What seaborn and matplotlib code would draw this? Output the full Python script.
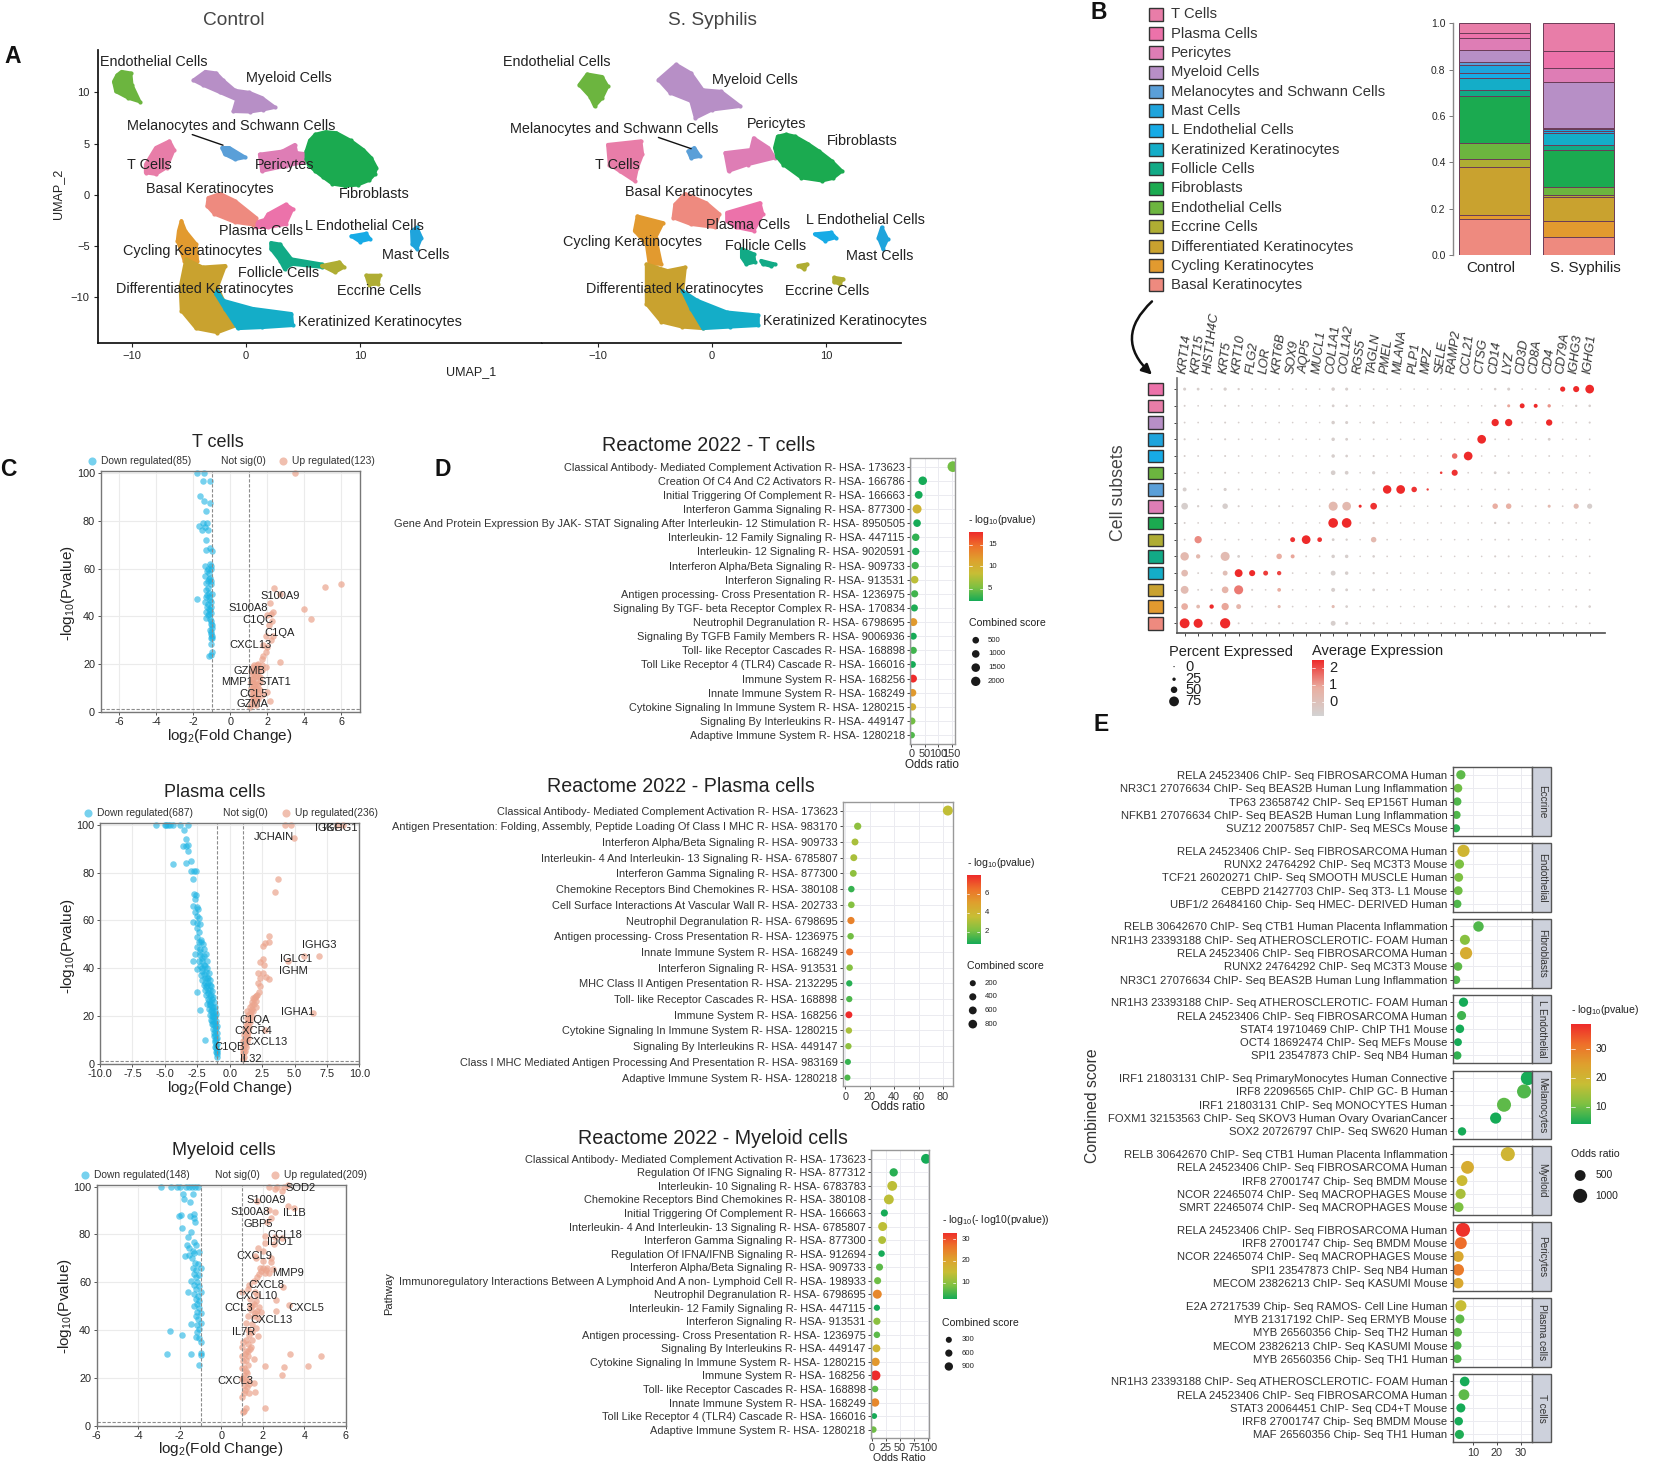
import numpy as np
import pandas as pd
import matplotlib
matplotlib.use('Agg')
import matplotlib.pyplot as plt
import seaborn as sns
from matplotlib.colors import LinearSegmentedColormap
from matplotlib.patches import Rectangle, FancyArrowPatch

sns.set_theme(style='white')
plt.rcParams['font.family'] = ['Liberation Sans', 'DejaVu Sans']
plt.rcParams['mathtext.default'] = 'regular'

# all layout below is in the coordinates of the 1568x1407 preview
W, H = 1568, 1407
TXT = '#222222'

# ---------- panel A, cluster outlines read from the UMAP (x, y)
c_endo = [(-11.6, 11.07), (-11.3, 11.7), (-10.9, 12.05), (-10.1, 11.9), (-10, 10.75), (-9.3, 9.1), (-10.3, 9.45), (-11.4, 10.1)]
c_myeloid = [(-4.6, 11.2), (-3.55, 12.05), (-2.6, 11.9), (-2, 11.2), (-0.95, 10.2), (0.3, 10), (1.4, 9.5), (2.55, 8.55), (1.5, 8.3), (0.35, 8.1), (-1.1, 8.15), (-0.8, 9.3), (-2.25, 10), (-3.8, 10.75)]
c_melano = [(-2.1, 4.6), (-1.45, 4.6), (-0.05, 3.65), (-0.95, 3.45), (-1.85, 3.95)]
c_t = [(-8.8, 2.95), (-7.9, 4.6), (-6.7, 5.25), (-6.3, 4.4), (-6.95, 2.65), (-7.9, 2.0), (-8.8, 2.15)]
c_peri = [(1.2, 3.95), (3.2, 4.25), (4.3, 4.9), (4.45, 4.1), (5.6, 3.95), (5.6, 3.3), (3.5, 2.8), (1.4, 2.3)]
c_fibro = [(5.3, 4.25), (5.6, 5.3), (6.1, 5.9), (7.0, 6.15), (7.95, 6.05), (9.2, 5.3), (10.3, 4.4), (11, 3.6), (11.45, 2.65), (11.3, 2), (10.8, 1.4), (9.8, 0.95), (8.7, 0.85), (7.6, 1.05), (6.8, 1.7), (6.1, 2.3), (5.5, 2.9), (5.3, 3.5)]
c_basal = [(-3.3, -0.3), (-2.25, 0.1), (-0.95, -0.6), (0.9, -2.25), (0.65, -2.95), (-0.95, -2.7), (-2.75, -1.9), (-3.4, -1.1)]
c_plasma = [(0.9, -2.7), (1.65, -2.45), (1.95, -1.9), (3.5, -0.95), (4.1, -1.4), (3.5, -2.9), (1.95, -3.2), (0.9, -3.2)]
c_cycling = [(-5.65, -2.55), (-5.3, -3.55), (-4.35, -4.85), (-4.25, -6.45), (-5.4, -6.45), (-6.0, -4.5), (-5.9, -3.55)]
c_diff = [(-5.25, -6.3), (-3.8, -7.1), (-1.8, -6.95), (-2.5, -9.05), (-1.7, -11), (-0.7, -12.75), (-2.5, -13.5), (-4.35, -13.1), (-5.65, -11.35), (-5.75, -9.05)]
c_kerat = [(-2.5, -9.4), (-2, -10.35), (0.6, -11.15), (4, -11.65), (4.1, -12.8), (1.4, -13), (-0.7, -13.1), (-1.85, -11.15), (-2.65, -9.7)]
c_follicle = [(2.2, -4.7), (3, -4.85), (4, -6.3), (6.65, -6.8), (6.65, -7.1), (4, -6.8), (3.4, -7.3), (3, -6.45), (2.2, -5.3)]
c_eccrine_a = [(6.65, -6.95), (8.2, -6.6), (8.6, -7.1), (7.8, -7.6)]
c_eccrine_b = [(10.55, -7.9), (11.75, -7.9), (11.6, -8.75), (10.8, -8.8)]
c_lendo = [(9.25, -4.05), (10.55, -3.8), (10.9, -4.35), (10, -4.6)]
c_mast = [(14.55, -3.55), (15, -3.2), (15.4, -4.2), (15, -5.3), (14.6, -4.85)]

s_endo = [(-11.65, 10.75), (-10.95, 11.8), (-9.65, 11.55), (-9.15, 10.6), (-9.65, 9.45), (-10.3, 8.65), (-10.7, 9.6)]
s_myeloid = [(-4.7, 11.25), (-3.15, 12.75), (-1.85, 11.9), (-0.8, 10.25), (0.8, 10.1), (2.5, 8.65), (0, 8.3), (-1.45, 7.5), (-1.85, 9.15), (-3.65, 9.95)]
s_melano = [(-2.1, 4.25), (-1.55, 4.6), (-1.05, 3.75), (-1.85, 3.6)]
s_t = [(-9.15, 4.9), (-6.25, 5.25), (-6.1, 3.95), (-6.55, 2.65), (-6.8, 1.35), (-8.1, 2.3), (-9, 2.95)]
s_peri = [(1.15, 4.1), (3.4, 4.4), (3.65, 5.55), (4.95, 4.6), (5.5, 3.6), (3.15, 2.95), (1.45, 2.3)]
s_fibro = [(5.75, 5.7), (6.5, 5.9), (7.3, 5.7), (8.4, 5.0), (9.4, 4.25), (10.5, 3.3), (11.4, 2.3), (10.6, 1.6), (9.65, 1.35), (7.85, 1.65), (6.25, 2.95), (5.7, 3.7), (5.5, 4.6)]
s_basal = [(-3.25, -0.95), (-2.35, 0.1), (-0.5, -0.8), (0.65, -1.9), (0.25, -3.2), (-1.85, -2.9), (-3.4, -2.25)]
s_plasma = [(1.3, -1.75), (4.2, -0.8), (4.45, -1.9), (3.65, -3.55), (2.1, -3.2), (1.3, -2.55)]
s_cycling = [(-6.55, -2.1), (-4.3, -2.75), (-4.95, -4.2), (-4.45, -6.8), (-5.5, -6.8), (-5.75, -4.85), (-6.8, -3.55)]
s_diff = [(-5.75, -6.8), (-3.9, -7.45), (-2.35, -7.1), (-2.6, -9.7), (-0.8, -13.1), (-2.6, -12.95), (-4.45, -12.45), (-5.75, -10.7)]
s_kerat = [(-2.6, -9.4), (-1.3, -10.35), (1.3, -11.5), (4.05, -11.8), (4.05, -12.8), (1.55, -12.95), (-0.8, -13.1), (-1.85, -11.15)]
s_follicle_a = [(2.6, -5.3), (3.65, -5.8), (3.75, -6.6), (3, -6.8), (2.6, -6.15)]
s_follicle_b = [(4.3, -6.45), (5.5, -6.8), (5.2, -7), (4.45, -6.8)]
s_eccrine_a = [(7.55, -6.95), (8.35, -6.8), (8.1, -7.3)]
s_eccrine_b = [(10.7, -8.1), (11.5, -8.25), (11.2, -8.75), (10.7, -8.55)]
s_lendo = [(9, -3.85), (10.45, -3.7), (10.85, -4.2), (9.9, -4.5)]
s_mast = [(14.6, -4.2), (14.9, -3.2), (15.4, -4.35), (15, -5.3)]

subset_names = ['T Cells', 'Plasma Cells', 'Pericytes', 'Myeloid Cells', 'Melanocytes and Schwann Cells',
                'Mast Cells', 'L Endothelial Cells', 'Keratinized Keratinocytes', 'Follicle Cells',
                'Fibroblasts', 'Endothelial Cells', 'Eccrine Cells', 'Differentiated Keratinocytes',
                'Cycling Keratinocytes', 'Basal Keratinocytes']
subset_colors = ['#E87DA8', '#EC72AA', '#DE7DB5', '#B78FC6', '#5A9FD8', '#1FA4DC', '#17ABE6', '#14ADC8',
                 '#12AA86', '#1BAA50', '#6CB53F', '#AFAD33', '#C9A22F', '#E29A2F', '#EE8A7F']

# ---------- panel B
control_frac = [.043, .019, .053, .053, .011, .036, .019, .055, .026, .201, .070, .033, .208, .018, .155]
syphilis_frac = [.120, .071, .063, .197, .007, .005, .010, .051, .023, .159, .036, .006, .106, .066, .080]

genes = ['KRT14', 'KRT15', 'HIST1H4C', 'KRT5', 'KRT10', 'FLG2', 'LOR', 'KRT6B', 'SOX9', 'AQP5', 'MUCL1',
         'COL1A1', 'COL1A2', 'RGS5', 'TAGLN', 'PMEL', 'MLANA', 'PLP1', 'MPZ', 'SELE', 'RAMP2', 'CCL21',
         'CTSG', 'CD14', 'LYZ', 'CD3D', 'CD8A', 'CD4', 'CD79A', 'IGHG3', 'IGHG1']
row_colors = ['#EC72AA', '#E87DA8', '#B78FC6', '#1FA4DC', '#17ABE6', '#6CB53F', '#5A9FD8', '#DE7DB5',
              '#1BAA50', '#AFAD33', '#12AA86', '#14ADC8', '#C9A22F', '#E29A2F', '#EE8A7F']
# percent expressed, rows from top to bottom
dot_pct = [
    [14, 12, 5, 16, 8, 4, 3, 4, 3, 3, 3, 18, 14, 2, 4, 2, 2, 2, 2, 2, 3, 2, 3, 10, 14, 3, 3, 3, 32, 40, 62],
    [5, 3, 2, 6, 4, 3, 2, 3, 2, 2, 2, 12, 9, 2, 3, 2, 2, 2, 2, 2, 2, 2, 2, 8, 14, 30, 22, 17, 2, 8, 10],
    [4, 3, 2, 5, 3, 2, 2, 3, 2, 2, 2, 18, 14, 2, 10, 2, 2, 2, 2, 2, 2, 2, 3, 50, 50, 4, 2, 42, 2, 4, 6],
    [6, 3, 2, 6, 3, 2, 2, 3, 2, 2, 2, 18, 12, 2, 4, 2, 2, 2, 2, 2, 2, 2, 62, 4, 3, 2, 2, 12, 2, 2, 3],
    [5, 4, 2, 5, 3, 2, 2, 3, 2, 2, 2, 18, 11, 2, 6, 2, 2, 2, 2, 2, 35, 62, 2, 4, 3, 2, 2, 4, 2, 2, 3],
    [5, 3, 2, 5, 3, 2, 2, 3, 2, 2, 2, 28, 20, 2, 16, 2, 2, 2, 2, 10, 40, 3, 2, 12, 10, 2, 2, 4, 2, 2, 3],
    [22, 4, 2, 15, 5, 3, 2, 3, 2, 2, 2, 5, 5, 2, 8, 60, 62, 35, 8, 3, 3, 2, 2, 4, 3, 2, 2, 2, 2, 2, 3],
    [45, 8, 5, 35, 6, 3, 2, 5, 3, 2, 3, 65, 62, 14, 45, 4, 3, 2, 2, 4, 4, 3, 2, 35, 35, 4, 4, 14, 3, 32, 32],
    [5, 3, 2, 4, 3, 2, 2, 3, 2, 2, 2, 70, 70, 2, 8, 2, 2, 2, 2, 2, 2, 2, 2, 8, 8, 2, 2, 3, 2, 2, 4],
    [4, 50, 2, 4, 3, 2, 2, 4, 30, 62, 28, 12, 8, 2, 35, 3, 2, 2, 2, 2, 2, 2, 2, 4, 4, 2, 2, 2, 2, 2, 3],
    [60, 25, 6, 65, 12, 3, 2, 35, 22, 4, 3, 18, 18, 2, 10, 3, 2, 2, 2, 2, 2, 2, 2, 6, 5, 2, 2, 4, 2, 2, 3],
    [45, 4, 4, 30, 55, 40, 30, 25, 3, 3, 3, 30, 18, 2, 8, 4, 2, 2, 2, 2, 2, 2, 2, 4, 4, 2, 2, 3, 2, 3, 4],
    [55, 4, 8, 45, 65, 6, 3, 20, 3, 2, 2, 22, 12, 2, 12, 3, 2, 2, 2, 2, 2, 2, 2, 5, 5, 2, 2, 3, 2, 3, 4],
    [45, 20, 25, 50, 30, 5, 3, 15, 3, 2, 2, 15, 11, 2, 4, 3, 2, 2, 2, 2, 2, 2, 2, 7, 9, 3, 2, 4, 2, 6, 10],
    [72, 65, 6, 75, 5, 4, 3, 6, 3, 2, 2, 30, 15, 2, 8, 2, 2, 2, 2, 2, 2, 2, 2, 5, 5, 2, 2, 3, 2, 2, 3],
]
# average expression where it is not the grey background: (row from top, column, value)
dot_expr = [(0, 28, 2.2), (0, 29, 2.2), (0, 30, 2.2), (1, 25, 2.2), (1, 26, 2.2), (1, 27, 1), (1, 24, .8),
            (2, 23, 2.2), (2, 24, 2.2), (2, 27, 2.2), (3, 22, 2.2), (4, 21, 2.2), (4, 20, 1.5), (5, 19, 2),
            (5, 20, 2.1), (6, 15, 2.2), (6, 16, 2.2), (6, 17, 2.1), (6, 18, 2), (7, 11, .3), (7, 12, .3),
            (7, 13, 2.2), (7, 14, 2.1), (7, 23, .7), (7, 24, .6), (7, 27, .3), (7, 29, .2), (8, 11, 2.2),
            (8, 12, 2.2), (9, 1, 1.1), (9, 8, 2.1), (9, 9, 2.2), (9, 10, 2.1), (9, 14, .3), (10, 0, .3),
            (10, 1, .3), (10, 3, .2), (10, 7, .7), (10, 8, .8), (11, 0, .2), (11, 3, .1), (11, 4, 2.2),
            (11, 5, 2.2), (11, 6, 2), (11, 7, 1.9), (12, 0, .2), (12, 3, .5), (12, 4, 1.3), (12, 7, .7),
            (13, 0, .7), (13, 1, .3), (13, 2, 2.2), (13, 3, .8), (13, 4, .4), (13, 7, .3), (13, 11, .2),
            (14, 0, 2.2), (14, 1, 2.2), (14, 3, 2.2)]

# ---------- panel C
t_down_x = [-1.8, -1.4, -1.45, -1.1, -1.65, -1.4, -1.1, -1.3, -1.5, -1.7, -1.25, -1.35, -1.55, -1.2, -1.3, -1.3, -1.1, -1.0, -1.35, -1.1, -1.05, -1.25, -1.15, -1.35, -1.1, -1.2, -1.3, -1.05, -1.2, -1.3, -1.15, -1.0, -1.25, -1.8, -1.35, -1.1, -1.2, -1.05, -1.15, -1.3, -1.05, -1.2, -1.3, -1.1, -1.05, -1.0, -1.05, -1.0, -1.05, -1.05, -1.0, -1.15, -1.05,
            -1.05, -1.2, -1.15, -1.05, -1.3, -1.15, -1.05, -1.25, -1.1, -1.15, -1.05, -1.0, -1.1, -1.05, -1.0]
t_down_y = [100, 100, 96.5, 96.5, 90.5, 88.5, 87.5, 84, 79, 78, 79, 77.5, 76, 76, 72, 68, 68.5, 67.5, 61, 62, 60, 59, 58, 57, 56, 55, 54, 53.5, 52, 51, 50, 49.5, 49, 47.5, 46, 47, 45, 44, 43, 42, 41.5, 40.5, 39.5, 39, 37, 35, 33.5, 32, 31, 28.5, 25, 23.5, 24,
            61, 60, 55.5, 55, 48, 48, 46, 44, 42.5, 41, 38, 36.5, 34.5, 32.5, 31]
t_up_x = [3.5, 2.35, 2.7, 5.1, 6, 2.15, 3.95, 4.35, 2.3, 2.2, 2.0, 2.25, 2.1, 1.9, 2.3, 2.2, 1.75, 2.0, 1.9, 1.75, 1.7, 2.7, 1.5, 1.3, 1.2, 1.4, 1.9, 1.1, 1.7, 1.3, 1.5, 1.15, 1.4, 1.2, 1.6, 1.3, 1.1, 1.5, 1.25, 1.6, 2.0, 1.15, 1.35, 1.7, 1.2, 1.5, 2.15, 1.3, 1.1, 1.4, 1.05,
          1.3, 1.5, 1.15, 1.4, 1.25, 1.6, 1.1, 1.35, 1.5, 1.2, 1.4, 1.3, 1.55, 1.2, 1.4, 1.25, 1.55, 1.7, 1.45]
t_up_y = [100, 52, 49.5, 52.5, 53.5, 45.5, 43, 39, 42, 41, 40.5, 38, 36.5, 32, 32, 30, 28, 27, 25, 23.5, 22, 21, 20, 19.5, 19, 18, 19, 17, 17.5, 16, 15, 14, 13, 12, 12.5, 11, 10, 10, 9, 9, 8.5, 8, 7, 7, 6, 5.5, 4.5, 4.5, 3.5, 3, 2,
          17, 17, 15.5, 15, 14, 14.5, 12.5, 11.5, 11.5, 10, 9.5, 8, 8, 7, 6, 5, 18.5, 19.5, 19.5]
t_gene = ['S100A9', 'S100A8', 'C1QC', 'C1QA', 'CXCL13', 'GZMB', 'MMP1', 'STAT1', 'CCL5', 'GZMA']
t_gene_x = [2.7, .95, 1.5, 2.65, 1.1, 1.03, .38, 2.42, 1.25, 1.2]
t_gene_y = [48.6, 43.4, 38.3, 33.2, 28, 17.3, 12.4, 12.4, 7.4, 3.2]

pl_down_x = [-5.7, -5.0, -4.9, -4.75, -4.6, -4.4, -3.85, -3.2, -3.55, -3.4, -3.6, -3.4, -3.25, -3.2, -3.0, -3.4, -4.4, -2.95, -2.75, -2.6, -2.85, -2.75, -2.6, -2.7, -2.8, -2.55, -2.45, -2.7, -2.55, -2.4, -2.8, -2.55, -2.3, -2.5, -2.4, -2.5, -2.4, -2.2, -2.5, -2.3, -2.0, -2.7, -2.3, -2.0, -2.4, -2.1, -2.85, -1.9, -2.3, -2.5, -2.1, -1.75, -2.2, -1.9, -2.1, -1.7, -2.0, -1.75, -1.55, -1.9, -2.5, -1.65, -1.8, -1.45, -1.65, -1.35, -1.75, -1.5, -1.3, -1.6, -1.4, -1.15, -2.3, -1.55, -1.3, -1.1, -1.45, -1.2, -1.05, -1.4, -1.15, -1.3, -1.05, -1.2, -1.0, -1.2, -1.9, -1.05, -1.15, -1.0, -1.1, -1.0, -1.05, -1.0, -1.0,
             -2.25, -2.05, -2.3, -1.85, -2.15, -1.75, -2.0, -2.15, -1.85, -1.6, -2.0, -1.75, -1.5, -1.9, -1.65, -1.45, -1.8, -1.55, -1.35, -1.7, -1.55, -1.3, -1.6, -1.45, -1.2, -1.55, -1.35, -1.15, -1.45, -1.25, -1.05, -1.4, -1.2, -1.35, -1.1, -1.25, -1.0, -1.1, -1.15, -1.0, -1.1, -1.05, -1.05, -1.0]
pl_down_y = [100, 100, 100, 100, 100, 100, 100, 100, 98, 94, 91, 91, 91.5, 89, 85, 84, 83.5, 80.5, 80.5, 80.5, 77.5, 71, 70.5, 69, 66, 65.5, 65, 63.5, 62, 61, 59.5, 59, 58.5, 57, 55, 53, 51, 51, 49, 48, 48, 46, 45.5, 45, 43, 43, 43, 41, 41, 39.5, 39, 40, 37, 36, 35, 36, 33, 33, 33, 31, 30, 31, 29, 29, 27, 27, 25, 25, 24, 23, 22.5, 22, 22.5, 20.5, 20, 20, 18.5, 18, 18, 16.5, 16, 14.5, 15, 13, 13, 11.5, 10, 10.5, 9, 8.5, 7, 6, 5, 4, 3,
             52, 50, 47, 46, 44.5, 43, 41.5, 40, 38.5, 38, 37.5, 36, 35, 34, 34, 32.5, 32, 31, 30.5, 29.5, 28.5, 28, 26.5, 26, 26, 24.5, 24, 24, 22, 21.5, 21, 20, 19.5, 18, 17, 16.5, 16, 14, 12, 11, 10, 8, 6.5, 5]
pl_up_x = [8.3, 8.7, 4.25, 4.7, 4.95, 3.7, 3.5, 3.0, 3.05, 2.75, 2.6, 5.7, 6.85, 4.5, 2.6, 2.35, 2.65, 2.2, 2.55, 2.8, 3.0, 2.3, 2.2, 2.35, 2.25, 2.1, 1.95, 1.8, 2.05, 1.85, 2.0, 1.7, 1.3, 1.8, 6.4, 1.6, 1.75, 1.5, 1.6, 1.35, 1.5, 2.75, 1.3, 1.4, 1.2, 1.3, 1.45, 1.15, 1.3, 1.1, 1.25, 1.05, 1.15, 1.05, 1.1, 1.0,
           1.9, 2.0, 1.7, 1.75, 1.55, 1.65, 1.45, 1.35, 1.45, 1.25, 1.2, 1.35, 1.1, 1.2, 1.05, 1.15, 1.0, 1.1]
pl_up_y = [100, 100, 100, 100, 94.5, 77.5, 72, 53.5, 51, 50.5, 49.5, 45, 45, 43, 44, 42.5, 41.5, 38, 38, 36.5, 35.5, 36, 34, 32.5, 30, 29, 28, 27.5, 26.5, 25, 24, 23, 22, 22, 21.5, 21, 19.5, 19, 17.5, 17, 15.5, 14, 15, 13.5, 13, 11.5, 11, 10.5, 9, 8.5, 7, 7, 5.5, 4.5, 3, 2,
           27, 28.5, 26, 24.5, 24, 22, 20.5, 19, 17.5, 16, 14.5, 12.5, 12, 10, 9.5, 8, 6, 5]
pl_gene = ['IGKC', 'IGHG1', 'JCHAIN', 'IGHG3', 'IGLC1', 'IGHM', 'IGHA1', 'C1QA', 'CXCR4', 'CXCL13', 'C1QB', 'IL32']
pl_gene_x = [7.6, 8.5, 3.4, 6.9, 5.1, 4.9, 5.2, 1.9, 1.8, 2.85, 0, 1.65]
pl_gene_y = [98.5, 98.5, 94.8, 49.6, 44, 39, 21.7, 18.3, 13.8, 9.2, 7.1, 2.1]

my_down_x = [-2.9, -2.4, -2.15, -2.0, -1.7, -1.55, -1.4, -1.25, -1.1, -1.85, -1.8, -1.35, -1.5, -1.3, -1.95, -2.05, -1.5, -1.3, -1.25, -1.9, -1.45, -1.6, -1.3, -1.65, -1.2, -1.55, -1.35, -1.05, -1.3, -1.55, -1.75, -1.4, -1.25, -1.1, -1.35, -1.0, -1.2, -1.3, -1.05, -1.2, -1.45, -1.15, -1.3, -1.05, -1.2, -1.6, -1.0, -1.3, -1.1, -1.2, -1.05, -1.15, -1.3, -1.05, -1.15, -1.0, -1.2, -1.1, -1.0, -1.45, -1.15, -1.05, -2.45, -1.15, -1.9, -1.2, -1.05, -1.0, -2.6, -1.45, -1.0, -1.0, -1.05]
my_down_y = [100, 100, 100, 100, 100, 100, 100, 100, 100, 97, 95, 97, 93.5, 88.5, 88, 87.5, 87.5, 87, 85, 82.5, 81, 79, 77, 75.5, 75.5, 74.5, 73, 72.5, 72, 71.5, 71, 70, 68, 67.5, 66, 66, 65, 63.5, 63, 62, 60.5, 60, 59, 58.5, 57, 56, 56, 55, 54, 53, 52, 51, 50, 49, 47.5, 47, 46, 44.5, 43, 42.5, 42, 40.5, 39.5, 39, 38, 37, 36.5, 35, 30, 30, 30.5, 29.5, 25.5]
my_up_x = [2.3, 2.7, 3.0, 3.2, 2.6, 2.9, 1.7, 3.2, 3.5, 2.6, 2.3, 2.4, 2.2, 2.1, 2.6, 2.9, 2.1, 2.55, 1.75, 2.0, 1.6, 2.4, 2.0, 2.4, 1.65, 2.5, 2.0, 2.15, 1.9, 2.3, 1.8, 1.7, 1.55, 1.35, 2.95, 1.3, 1.0, 1.6, 1.7, 1.4, 2.65, 1.55, 3.25, 1.8, 1.45, 2.65, 1.9, 1.6, 1.3, 1.75, 1.2, 1.5, 1.65, 1.3, 1.75, 1.05, 1.5, 1.3, 1.0, 1.4, 1.2, 3.3, 4.8, 1.0, 1.55, 1.2, 2.1, 3.0, 4.15, 1.0, 1.2, 2.9, 1.1, 1.0, 1.3, 1.55, 1.1, 1.25, 1.6, 1.35, 1.1, 1.0, 1.2, 2.1, 1.1, 1.05,
           1.15, 1.3, 1.05, 1.3, 1.1, 1.25, 1.05, 1.2, 1.35, 1.15, 1.3, 1.45, 1.2, 1.35, 1.5, 1.55, 1.7, 1.5, 1.65, 1.4, 2.1, 2.2, 1.85]
my_up_y = [100, 100, 100, 100.5, 99, 98, 94, 92, 91, 89.5, 90, 87, 85, 79.5, 79, 78.5, 76.5, 76, 74.5, 73, 71, 70, 69, 68.5, 70, 65.5, 66, 65, 64.5, 64, 63.5, 62, 60.5, 59, 58, 57, 56, 56, 54.5, 53, 52.5, 51, 50.5, 49.5, 48.5, 48, 47.5, 47, 46, 45, 43, 42.5, 41, 40, 37.5, 35, 36, 34, 33, 32, 31, 30, 29, 29, 28, 27.5, 25, 24.5, 25, 24, 23, 21, 21, 19.5, 19, 18, 17, 16, 14, 13.5, 13.5, 12, 7.5, 7.3, 6, 5.5,
           30, 29, 27, 25.5, 24, 22, 20, 18.5, 17.5, 15, 31, 33, 36, 38, 39, 46, 48, 50, 52, 50, 64, 66, 66]
my_gene = ['SOD2', 'S100A9', 'S100A8', 'IL1B', 'GBP5', 'CCL18', 'IDO1', 'CXCL9', 'MMP9', 'CXCL8', 'CXCL10', 'CCL3', 'CXCL5', 'CXCL13', 'IL7R', 'CXCL3']
my_gene_x = [3.82, 2.18, 1.41, 3.5, 1.76, 3.06, 2.82, 1.6, 3.22, 2.15, 1.7, .83, 4.07, 2.4, 1.09, .7]
my_gene_y = [99.3, 94.4, 89.5, 89, 84.5, 79.6, 77, 71, 64, 59, 54, 49, 49, 44, 39.2, 18.7]

# ---------- panel D
dt_terms = ['Classical Antibody- Mediated Complement Activation R- HSA- 173623', 'Creation Of C4 And C2 Activators R- HSA- 166786',
            'Initial Triggering Of Complement R- HSA- 166663', 'Interferon Gamma Signaling R- HSA- 877300',
            'Gene And Protein Expression By JAK- STAT Signaling After Interleukin- 12 Stimulation R- HSA- 8950505',
            'Interleukin- 12 Family Signaling R- HSA- 447115', 'Interleukin- 12 Signaling R- HSA- 9020591',
            'Interferon Alpha/Beta Signaling R- HSA- 909733', 'Interferon Signaling R- HSA- 913531',
            'Antigen processing- Cross Presentation R- HSA- 1236975', 'Signaling By TGF- beta Receptor Complex R- HSA- 170834',
            'Neutrophil Degranulation R- HSA- 6798695', 'Signaling By TGFB Family Members R- HSA- 9006936',
            'Toll- like Receptor Cascades R- HSA- 168898', 'Toll Like Receptor 4 (TLR4) Cascade R- HSA- 166016',
            'Immune System R- HSA- 168256', 'Innate Immune System R- HSA- 168249', 'Cytokine Signaling In Immune System R- HSA- 1280215',
            'Signaling By Interleukins R- HSA- 449147', 'Adaptive Immune System R- HSA- 1280218']
dt_odds = [155, 43, 28, 22, 22, 17, 17, 15, 13, 13, 12, 8, 8, 8, 5, 7, 5, 5, 3, 2]
dt_pval = [5, 2, 2, 9.5, 2, 3, 2.5, 3.5, 8, 3.5, 2.5, 12, 2, 3.5, 2, 18, 12, 10, 5, 4]
dt_score = [2200, 900, 600, 1100, 500, 450, 400, 380, 500, 330, 300, 650, 250, 300, 200, 600, 500, 400, 280, 100]

dp_terms = ['Classical Antibody- Mediated Complement Activation R- HSA- 173623',
            'Antigen Presentation: Folding, Assembly, Peptide Loading Of Class I MHC R- HSA- 983170',
            'Interferon Alpha/Beta Signaling R- HSA- 909733', 'Interleukin- 4 And Interleukin- 13 Signaling R- HSA- 6785807',
            'Interferon Gamma Signaling R- HSA- 877300', 'Chemokine Receptors Bind Chemokines R- HSA- 380108',
            'Cell Surface Interactions At Vascular Wall R- HSA- 202733', 'Neutrophil Degranulation R- HSA- 6798695',
            'Antigen processing- Cross Presentation R- HSA- 1236975', 'Innate Immune System R- HSA- 168249',
            'Interferon Signaling R- HSA- 913531', 'MHC Class II Antigen Presentation R- HSA- 2132295',
            'Toll- like Receptor Cascades R- HSA- 168898', 'Immune System R- HSA- 168256',
            'Cytokine Signaling In Immune System R- HSA- 1280215', 'Signaling By Interleukins R- HSA- 449147',
            'Class I MHC Mediated Antigen Processing And Presentation R- HSA- 983169', 'Adaptive Immune System R- HSA- 1280218']
dp_odds = [84, 10.2, 8, 7, 6.6, 5, 5, 4.7, 4.4, 3.6, 3.6, 3.3, 3.3, 3, 3, 2.6, 2.2, 1.8]
dp_pval = [3.5, 2.5, 3, 3, 2.5, 1.2, 2.3, 6, 2, 6.5, 2.3, 1, 1.5, 8, 3, 2.5, 1.2, 1.5]
dp_score = [850, 250, 200, 200, 180, 130, 150, 250, 130, 220, 130, 100, 100, 200, 120, 110, 70, 80]

dm_terms = ['Classical Antibody- Mediated Complement Activation R- HSA- 173623', 'Regulation Of IFNG Signaling R- HSA- 877312',
            'Interleukin- 10 Signaling R- HSA- 6783783', 'Chemokine Receptors Bind Chemokines R- HSA- 380108',
            'Initial Triggering Of Complement R- HSA- 166663', 'Interleukin- 4 And Interleukin- 13 Signaling R- HSA- 6785807',
            'Interferon Gamma Signaling R- HSA- 877300', 'Regulation Of IFNA/IFNB Signaling R- HSA- 912694',
            'Interferon Alpha/Beta Signaling R- HSA- 909733',
            'Immunoregulatory Interactions Between A Lymphoid And A non- Lymphoid Cell R- HSA- 198933',
            'Neutrophil Degranulation R- HSA- 6798695', 'Interleukin- 12 Family Signaling R- HSA- 447115',
            'Interferon Signaling R- HSA- 913531', 'Antigen processing- Cross Presentation R- HSA- 1236975',
            'Signaling By Interleukins R- HSA- 449147', 'Cytokine Signaling In Immune System R- HSA- 1280215',
            'Immune System R- HSA- 168256', 'Toll- like Receptor Cascades R- HSA- 168898', 'Innate Immune System R- HSA- 168249',
            'Toll Like Receptor 4 (TLR4) Cascade R- HSA- 166016', 'Adaptive Immune System R- HSA- 1280218']
dm_odds = [96, 38.6, 36, 30, 22, 19, 18, 17, 13.4, 10, 9.4, 8.7, 8.7, 8.7, 7.9, 6.3, 6.3, 5.5, 5.5, 3.9, 2.4]
dm_pval = [3, 4, 14, 14, 3, 14, 13, 3, 7, 8, 24, 3, 10, 7, 17, 22, 35, 7, 24, 2, 8]
dm_score = [1100, 550, 1200, 950, 300, 700, 450, 200, 300, 300, 700, 150, 320, 200, 450, 550, 1400, 200, 550, 90, 200]

# ---------- panel E
e_panels = ['Eccrine', 'Endothelial', 'Fibroblasts', 'L Endothelial', 'Melanocytes', 'Myeloid', 'Pericytes', 'Plasma cells', 'T cells']
e_terms = [
    ['RELA 24523406 ChIP- Seq FIBROSARCOMA Human', 'NR3C1 27076634 ChIP- Seq BEAS2B Human Lung Inflammation', 'TP63 23658742 ChIP- Seq EP156T Human', 'NFKB1 27076634 ChIP- Seq BEAS2B Human Lung Inflammation', 'SUZ12 20075857 ChIP- Seq MESCs Mouse'],
    ['RELA 24523406 ChIP- Seq FIBROSARCOMA Human', 'RUNX2 24764292 ChIP- Seq MC3T3 Mouse', 'TCF21 26020271 ChIP- Seq SMOOTH MUSCLE Human', 'CEBPD 21427703 ChIP- Seq 3T3- L1 Mouse', 'UBF1/2 26484160 Chip- Seq HMEC- DERIVED Human'],
    ['RELB 30642670 ChIP- Seq CTB1 Human Placenta Inflammation', 'NR1H3 23393188 ChIP- Seq ATHEROSCLEROTIC- FOAM Human', 'RELA 24523406 ChIP- Seq FIBROSARCOMA Human', 'RUNX2 24764292 ChIP- Seq MC3T3 Mouse', 'NR3C1 27076634 ChIP- Seq BEAS2B Human Lung Inflammation'],
    ['NR1H3 23393188 ChIP- Seq ATHEROSCLEROTIC- FOAM Human', 'RELA 24523406 ChIP- Seq FIBROSARCOMA Human', 'STAT4 19710469 ChIP- ChIP TH1 Mouse', 'OCT4 18692474 ChIP- Seq MEFs Mouse', 'SPI1 23547873 ChIP- Seq NB4 Human'],
    ['IRF1 21803131 ChIP- Seq PrimaryMonocytes Human Connective', 'IRF8 22096565 ChIP- ChIP GC- B Human', 'IRF1 21803131 ChIP- Seq MONOCYTES Human', 'FOXM1 32153563 ChIP- Seq SKOV3 Human Ovary OvarianCancer', 'SOX2 20726797 ChIP- Seq SW620 Human'],
    ['RELB 30642670 ChIP- Seq CTB1 Human Placenta Inflammation', 'RELA 24523406 ChIP- Seq FIBROSARCOMA Human', 'IRF8 27001747 Chip- Seq BMDM Mouse', 'NCOR 22465074 ChIP- Seq MACROPHAGES Mouse', 'SMRT 22465074 ChIP- Seq MACROPHAGES Mouse'],
    ['RELA 24523406 ChIP- Seq FIBROSARCOMA Human', 'IRF8 27001747 Chip- Seq BMDM Mouse', 'NCOR 22465074 ChIP- Seq MACROPHAGES Mouse', 'SPI1 23547873 ChIP- Seq NB4 Human', 'MECOM 23826213 ChIP- Seq KASUMI Mouse'],
    ['E2A 27217539 Chip- Seq RAMOS- Cell Line Human', 'MYB 21317192 ChIP- Seq ERMYB Mouse', 'MYB 26560356 Chip- Seq TH2 Human', 'MECOM 23826213 ChIP- Seq KASUMI Mouse', 'MYB 26560356 Chip- Seq TH1 Human'],
    ['NR1H3 23393188 ChIP- Seq ATHEROSCLEROTIC- FOAM Human', 'RELA 24523406 ChIP- Seq FIBROSARCOMA Human', 'STAT3 20064451 ChIP- Seq CD4+T Mouse', 'IRF8 27001747 Chip- Seq BMDM Mouse', 'MAF 26560356 Chip- Seq TH1 Human'],
]
e_odds = [[4.9, 3.7, 3.4, 3.1, 2.9], [6, 4.3, 4, 3.8, 3.4], [12.3, 6.6, 7.1, 3.7, 2.9], [6, 5.2, 4.5, 3.7, 3.4], [33, 31.4, 23, 19.5, 5.4],
          [24.6, 7.7, 5.4, 4.8, 4], [5.8, 4.9, 3.8, 3.8, 3.8], [4.9, 4.5, 3.5, 3.4, 3.4], [6.5, 6.2, 4.9, 4, 4.3]]
e_pval = [[9, 10, 8, 8, 6], [20, 11, 11, 10, 8], [8, 12, 22, 9, 8], [4, 7, 4, 4, 6], [3, 8, 9, 3, 3],
          [20, 22, 19, 15, 11], [38, 32, 23, 30, 23], [18, 9, 9, 8, 8], [4, 9, 3, 4, 5]]
e_score = [[300, 230, 200, 180, 170], [700, 300, 260, 250, 200], [450, 400, 700, 230, 200], [300, 280, 220, 150, 200], [1000, 1000, 1000, 550, 200],
           [1500, 800, 500, 400, 350], [1050, 650, 500, 600, 450], [550, 270, 250, 220, 220], [350, 500, 280, 220, 280]]
e_boxes = [(727.4, 792.6), (799.5, 864.3), (871.2, 936.3), (943, 1008), (1015, 1080), (1087, 1151.8), (1158.8, 1223.9), (1230.8, 1295.6), (1302.6, 1367.3)]

enrich_cmap = LinearSegmentedColormap.from_list('enrich', ['#16AB57', '#7FC142', '#C8BE35', '#DFA02E', '#EE702A', '#EE2B2B'])
expr_cmap = LinearSegmentedColormap.from_list('expr', ['#D3D3D3', '#E9AFA2', '#EE2A2A'])

fig = plt.figure(figsize=(16.54, 14.84), dpi=100, facecolor='white')
ov = fig.add_axes([0, 0, 1, 1], zorder=20)
ov.set_xlim(0, W)
ov.set_ylim(H, 0)
ov.axis('off')


def ax_px(l, t, r, b):
    return fig.add_axes([l / W, 1 - b / H, (r - l) / W, (b - t) / H])


def txt(x, y, s, size=8, ha='left', va='center', **kw):
    kw.setdefault('color', TXT)
    return ov.text(x, y, s, fontsize=size, ha=ha, va=va, **kw)


def gradient_bar(l, t, r, b, cmap, tick_y, tick_labels, label_x, size):
    ax = ax_px(l, t, r, b)
    ax.imshow(np.linspace(1, 0, 256)[:, None], cmap=cmap, aspect='auto', extent=(l, r, b, t))
    ax.axis('off')
    for y, lab in zip(tick_y, tick_labels):
        ax.plot([l, l + (r - l) * .2], [y, y], color='white', lw=.5)
        ax.plot([r - (r - l) * .2, r], [y, y], color='white', lw=.5)
        txt(label_x, y, lab, size)


def legend_dots(x, ys, sizes, labels, label_x, size):
    sns.scatterplot(x=[x] * len(ys), y=ys, s=sizes, color='#1a1a1a', linewidth=0, ax=ov, legend=False, zorder=25)
    for y, lab in zip(ys, labels):
        txt(label_x, y, lab, size)


# ---------- panel A
def umap_panel(l, r, xlim, clusters, labels):
    ax = ax_px(l, 47, r, 325)
    for pts, col in clusters:
        xs = [p[0] for p in pts]
        ys = [p[1] for p in pts]
        ax.fill(xs, ys, color=col, lw=2.4, joinstyle='round')
        sns.scatterplot(x=xs, y=ys, color=col, s=9, linewidth=0, ax=ax, legend=False)
    ax.set_xlim(*xlim)
    ax.set_ylim(-14.5, 14.2)
    ax.set_xticks([-10, 0, 10])
    ax.set_xticklabels(['\u221210', '0', '10'])
    ax.tick_params(axis='x', length=3, width=.8, labelsize=8, pad=3, bottom=True, color='#222222')
    for side in ['top', 'right', 'left']:
        ax.spines[side].set_visible(False)
    ax.spines['bottom'].set_color('#111111')
    for x, y, name in labels:
        ax.text(x, y, name, fontsize=10.4, ha='center', va='center', color=TXT, clip_on=False, zorder=5)
    return ax


ctrl = [(c_endo, subset_colors[10]), (c_myeloid, subset_colors[3]), (c_melano, subset_colors[4]), (c_t, subset_colors[0]),
        (c_peri, subset_colors[2]), (c_fibro, subset_colors[9]), (c_plasma, subset_colors[1]), (c_basal, subset_colors[14]),
        (c_cycling, subset_colors[13]), (c_diff, subset_colors[12]), (c_kerat, subset_colors[7]), (c_follicle, subset_colors[8]),
        (c_eccrine_a, subset_colors[11]), (c_eccrine_b, subset_colors[11]), (c_lendo, subset_colors[6]), (c_mast, subset_colors[5])]
syph = [(s_endo, subset_colors[10]), (s_myeloid, subset_colors[3]), (s_melano, subset_colors[4]), (s_t, subset_colors[0]),
        (s_peri, subset_colors[2]), (s_fibro, subset_colors[9]), (s_plasma, subset_colors[1]), (s_basal, subset_colors[14]),
        (s_cycling, subset_colors[13]), (s_diff, subset_colors[12]), (s_kerat, subset_colors[7]), (s_follicle_a, subset_colors[8]),
        (s_follicle_b, subset_colors[8]), (s_eccrine_a, subset_colors[11]), (s_eccrine_b, subset_colors[11]), (s_lendo, subset_colors[6]), (s_mast, subset_colors[5])]
ctrl_labels = [(-8.05, 12.96, 'Endothelial Cells'), (3.8, 11.4, 'Myeloid Cells'), (-1.3, 6.7, 'Melanocytes and Schwann Cells'),
               (-8.5, 2.9, 'T Cells'), (3.4, 2.9, 'Pericytes'), (11.3, 0.1, 'Fibroblasts'), (-3.2, 0.6, 'Basal Keratinocytes'),
               (1.3, -3.6, 'Plasma Cells'), (10.4, -3.1, 'L Endothelial Cells'), (14.9, -5.9, 'Mast Cells'),
               (-4.7, -5.55, 'Cycling Keratinocytes'), (2.9, -7.7, 'Follicle Cells'), (-3.6, -9.25, 'Differentiated Keratinocytes'),
               (11.7, -9.45, 'Eccrine Cells'), (11.8, -12.45, 'Keratinized Keratinocytes')]
syph_labels = [(-13.6, 12.96, 'Endothelial Cells'), (3.8, 11.2, 'Myeloid Cells'), (-8.6, 6.4, 'Melanocytes and Schwann Cells'),
               (5.65, 6.9, 'Pericytes'), (13.15, 5.25, 'Fibroblasts'), (-8.3, 2.9, 'T Cells'), (-2, 0.3, 'Basal Keratinocytes'),
               (3.15, -3, 'Plasma Cells'), (13.5, -2.5, 'L Endothelial Cells'), (4.7, -5.05, 'Follicle Cells'),
               (-7, -4.6, 'Cycling Keratinocytes'), (14.7, -6.05, 'Mast Cells'), (-3.25, -9.25, 'Differentiated Keratinocytes'),
               (10.1, -9.45, 'Eccrine Cells'), (11.65, -12.35, 'Keratinized Keratinocytes')]
ax_c = umap_panel(93, 514, (-12.96, 26.0), ctrl, ctrl_labels)
ax_s = umap_panel(514, 854, (-14.9, 16.57), syph, syph_labels)
ax_c.set_yticks([-10, -5, 0, 5, 10])
ax_c.set_yticklabels(['\u221210', '\u22125', '0', '5', '10'])
ax_c.tick_params(axis='y', length=3, width=.8, labelsize=8, pad=3, left=True, color='#222222')
ax_c.spines['left'].set_visible(True)
ax_c.spines['left'].set_color('#111111')
ax_s.set_yticks([])
ax_c.plot([-4.7, -2], [5.88, 4.84], color='#111111', lw=1)
ax_s.plot([-4.7, -1.83], [5.6, 4.5], color='#111111', lw=1)
txt(222, 19, 'Control', 13.8, 'center', color='#444444')
txt(675, 19, 'S. Syphilis', 13.8, 'center', color='#444444')
txt(447, 353, 'UMAP_1', 9, 'center')
txt(55, 184, 'UMAP_2', 9, 'center', rotation=90)

for x, y, s in [(12, 54, 'A'), (1042, 12, 'B'), (8, 445, 'C'), (420, 445, 'D'), (1044, 687, 'E')]:
    txt(x, y, s, 16.5, 'center', fontweight='bold', color='#111111')

# ---------- panel B
legend_y = [13.5, 32, 50, 68.5, 87, 105, 123.5, 142, 160, 178.5, 197, 215, 234, 252, 270]
for y, name, col in zip(legend_y, subset_names, subset_colors):
    ov.add_patch(Rectangle((1089, y - 6), 14, 12, facecolor=col, edgecolor='#333333', lw=1))
    txt(1110, y, name, 10.6, color='#333333')

ax = ax_px(1377, 22, 1536, 242)
bottom_c, bottom_s = 0, 0
for i in range(14, -1, -1):
    ax.bar(0, control_frac[i], bottom=bottom_c, width=.84, color=subset_colors[i], edgecolor='#6b3b57', lw=.7)
    ax.bar(1, syphilis_frac[i], bottom=bottom_s, width=.84, color=subset_colors[i], edgecolor='#6b3b57', lw=.7)
    bottom_c += control_frac[i]
    bottom_s += syphilis_frac[i]
ax.set_xlim(-.492, 1.488)
ax.set_ylim(0, 1)
ax.set_xticks([])
ax.set_yticks([0, .2, .4, .6, .8, 1])
ax.set_yticklabels(['0.0', '0.2', '0.4', '0.6', '0.8', '1.0'])
ax.tick_params(axis='y', length=3, width=.7, labelsize=7.5, left=True, color='#777777', pad=2)
for side in ['top', 'right', 'bottom']:
    ax.spines[side].set_visible(False)
ax.spines['left'].set_color('#888888')
ax.spines['left'].set_linewidth(1)
txt(1413, 254, 'Control', 11, 'center')
txt(1503, 254, 'S. Syphilis', 11, 'center')

# dot plot of markers
ax = ax_px(1116, 358.6, 1522, 600)
rows_n = len(dot_pct)
expr_lookup = {(r, c): v for r, c, v in dot_expr}
dot_rows = []
for r in range(rows_n):
    for c in range(len(genes)):
        pct = dot_pct[r][c]
        dot_rows.append((c, rows_n - 1 - r, (1 + pct * .085) ** 2, expr_lookup.get((r, c), -.6)))
dots = pd.DataFrame(dot_rows, columns=['gene', 'row', 'size', 'expr'])
sns.scatterplot(data=dots, x='gene', y='row', size='size', sizes=(0, 100), size_norm=(0, 100), hue='expr',
                palette=expr_cmap, hue_norm=(-.8, 2.2), linewidth=0, legend=False, ax=ax, clip_on=False)
ax.set_xlim(-.55, 31.17)
ax.set_ylim(-.57, 14.65)
ax.set_xlabel('')
ax.set_ylabel('')
ax.set_xticks(range(len(genes)))
ax.set_xticklabels(genes, fontstyle='italic', fontsize=9.2, color='#333333')
ax.tick_params(axis='x', bottom=True, top=False, labelbottom=False, labeltop=True, labelrotation=83, length=2, width=.6, pad=1)
ax.set_yticks(range(rows_n))
ax.set_yticklabels([])
ax.tick_params(axis='y', left=True, length=2, width=.6)
for side in ['top', 'right']:
    ax.spines[side].set_visible(False)
ax.spines['left'].set_color('#777777')
ax.spines['bottom'].set_color('#555555')
for r, col in enumerate(row_colors):
    y = 369 + r * 15.86
    ov.add_patch(Rectangle((1088, y - 5.9), 15, 11.8, facecolor=col, edgecolor='#333333', lw=1))
txt(1060, 467, 'Cell subsets', 12.8, 'center', rotation=90, color='#444444')
ov.add_patch(FancyArrowPatch((1094, 284), (1094, 357), connectionstyle='arc3,rad=0.56', arrowstyle='-|>',
                             mutation_scale=15, lw=1.8, color='#111111'))
txt(1108, 618, 'Percent Expressed', 10.5)
legend_dots(1113, [632, 644, 654, 665], [.8, 6, 22, 50], ['0', '25', '50', '75'], 1124, 10.5)
txt(1244, 617, 'Average Expression', 10.5)
gradient_bar(1244, 626, 1255, 679, expr_cmap, [633, 649.4, 666], ['2', '1', '0'], 1260, 10.5)


# ---------- panel C
def volcano(box, xlim, xticks, xlabels, down_x, down_y, up_x, up_y, gene, gene_x, gene_y, title, title_x, title_y,
            legend_y, legend_x, counts, xlab_pos, ylab_pos):
    l, t, r, b = box
    ax = ax_px(l, t, r, b)
    ax.set_xlim(*xlim)
    ax.set_ylim(0, 100.7)
    ax.grid(True, color='#ebebeb', lw=.8)
    ax.set_axisbelow(True)
    for v in [-1, 1]:
        ax.axvline(v, color='#8c8c8c', lw=.8, ls=(0, (3, 1.5)))
    ax.axhline(1.3, color='#8c8c8c', lw=.8, ls=(0, (3, 1.5)))
    sns.scatterplot(x=down_x, y=down_y, color='#1CB3E3', alpha=.6, s=22, linewidth=0, ax=ax, legend=False, clip_on=False)
    sns.scatterplot(x=up_x, y=up_y, color='#EBA48D', alpha=.7, s=22, linewidth=0, ax=ax, legend=False, clip_on=False)
    ax.set_xticks(xticks)
    ax.set_xticklabels(xlabels)
    ax.set_yticks([0, 20, 40, 60, 80, 100])
    ax.tick_params(axis='both', labelsize=7.8, length=2.5, width=.7, left=True, bottom=True, color='#555555', pad=1.5)
    for side in ax.spines.values():
        side.set_color('#777777')
        side.set_linewidth(1)
    for name, x, y in zip(gene, gene_x, gene_y):
        ax.text(x, y, name, fontsize=8, ha='center', va='center', color=TXT, clip_on=False)
    txt(title_x, title_y, title, 13, 'center')
    dot_dn, text_dn, text_ns, dot_up, text_up = legend_x
    sns.scatterplot(x=[dot_dn], y=[legend_y], color='#1CB3E3', alpha=.6, s=34, linewidth=0, ax=ov, legend=False)
    sns.scatterplot(x=[dot_up], y=[legend_y], color='#EBA48D', alpha=.7, s=34, linewidth=0, ax=ov, legend=False)
    txt(text_dn, legend_y, f'Down regulated({counts[0]})', 7.4, color='#333333')
    txt(text_ns, legend_y, 'Not sig(0)', 7.4, color='#333333')
    txt(text_up, legend_y, f'Up regulated({counts[1]})', 7.4, color='#333333')
    txt(xlab_pos[0], xlab_pos[1], 'log$_2$(Fold Change)', 11, 'center')
    txt(ylab_pos[0], ylab_pos[1], '-log$_{10}$(Pvalue)', 11, 'center', rotation=90)


volcano((95.4, 447, 341.3, 675), (-7, 7), [-6, -4, -2, 0, 2, 4, 6], ['-6', '-4', '-2', '0', '2', '4', '6'],
        t_down_x, t_down_y, t_up_x, t_up_y, t_gene, t_gene_x, t_gene_y, 'T cells', 206.7, 420, 437.3,
        (87.5, 96, 209.5, 268, 277), (85, 123), (218, 697.7), (64, 562))
volcano((94.8, 780.5, 340.7, 1008.7), (-10, 10), [-10, -7.5, -5, -2.5, 0, 2.5, 5, 7.5, 10],
        ['-10.0', '-7.5', '-5.0', '-2.5', '0.0', '2.5', '5.0', '7.5', '10.0'],
        pl_down_x, pl_down_y, pl_up_x, pl_up_y, pl_gene, pl_gene_x, pl_gene_y, 'Plasma cells', 203.8, 751, 770.7,
        (83.7, 92, 211.7, 270.8, 279.7), (687, 236), (217.4, 1031.7), (64, 897))
volcano((91.6, 1123.4, 328, 1351.6), (-6, 6), [-6, -4, -2, 0, 2, 4, 6], ['-6', '-4', '-2', '0', '2', '4', '6'],
        my_down_x, my_down_y, my_up_x, my_up_y, my_gene, my_gene_x, my_gene_y, 'Myeloid cells', 212.4, 1091, 1114,
        (80.9, 89, 204, 261, 269.5), (148, 209), (209.5, 1374), (62, 1238.7))


# ---------- panels D and E share this dot chart
def enrich(box, first_y, last_y, terms, odds, pval, score, xlim, xticks, hue_norm, size_norm, sizes, font=7.95, spine='#999999'):
    l, t, r, b = box
    ax = ax_px(l, t, r, b)
    n = len(terms)
    step = (last_y - first_y) / (n - 1)
    rows = pd.DataFrame({'odds': odds, 'row': range(n), 'pval': pval, 'score': score})
    ax.set_xlim(*xlim)
    ax.set_ylim((b - first_y) / step, (t - first_y) / step)
    ax.grid(True, color='#ebebf0', lw=.7)
    ax.set_axisbelow(True)
    sns.scatterplot(data=rows, x='odds', y='row', hue='pval', palette=enrich_cmap, hue_norm=hue_norm, size='score',
                    sizes=sizes, size_norm=size_norm, linewidth=0, legend=False, ax=ax, clip_on=True)
    ax.set_xlabel('')
    ax.set_ylabel('')
    ax.set_yticks(range(n))
    ax.set_yticklabels(terms)
    ax.set_xticks(xticks)
    ax.tick_params(axis='y', labelsize=font, length=2.5, width=.6, left=True, pad=1.5, labelcolor='#333333')
    ax.tick_params(axis='x', labelsize=7.8, length=2.5, width=.6, bottom=True, pad=1.5, labelcolor='#333333')
    for side in ax.spines.values():
        side.set_color(spine)
        side.set_linewidth(1)
    return ax


enrich((863, 434.5, 905.4, 705.3), 442.4, 697, dt_terms, dt_odds, dt_pval, dt_score, (-3, 163), [0, 50, 100, 150],
       (2.2, 17.9), (0, 2000), (20, 60))
txt(671.5, 422.5, 'Reactome 2022 - T cells', 14.1, 'center')
txt(884, 725, 'Odds ratio', 8.5, 'center')
txt(918, 493, '- log$_{10}$(pvalue)', 7.6)
gradient_bar(918.8, 504.6, 931.6, 569.5, enrich_cmap, [516.7, 537, 558], ['15', '10', '5'], 936.6, 5.6)
txt(919, 591, 'Combined score', 7.6)
legend_dots(925, [607, 620, 633, 646], [23, 30, 38, 45], ['500', '1000', '1500', '2000'], 936.6, 5.6)

enrich((799.2, 760, 903.2, 1029.7), 768.5, 1021.7, dp_terms, dp_odds, dp_pval, dp_score, (-1.8, 88), [0, 20, 40, 60, 80],
       (.72, 8), (0, 800), (16, 52))
txt(645, 746, 'Reactome 2022 - Plasma cells', 14.1, 'center')
txt(851, 1050, 'Odds ratio', 8.5, 'center')
txt(916.3, 817.8, '- log$_{10}$(pvalue)', 7.6)
gradient_bar(916.3, 829.8, 929, 894.6, enrich_cmap, [847.5, 865.2, 883.2], ['6', '4', '2'], 933.8, 5.6)
txt(916.3, 915.8, 'Combined score', 7.6)
legend_dots(922.2, [932.2, 945.1, 958, 971], [19, 26, 32, 39], ['200', '400', '600', '800'], 933.8, 5.6)

ax = enrich((825.8, 1090.2, 880.8, 1363.3), 1098.7, 1355.4, dm_terms, dm_odds, dm_pval, dm_score, (-1.6, 101.6), [0, 25, 50, 75, 100],
            (2.9, 33), (0, 900), (14, 50))
txt(676, 1079, 'Reactome 2022 - Myeloid cells', 14.1, 'center')
txt(853, 1382, 'Odds Ratio', 7.6, 'center')
txt(368.7, 1226, 'Pathway', 8, 'center', rotation=90)
txt(892.6, 1156.9, '- log$_{10}$(- log10(pvalue))', 7.6)
gradient_bar(893.5, 1168.6, 906, 1231.5, enrich_cmap, [1174.9, 1195.4, 1216.3], ['30', '20', '10'], 911.7, 5.6)
txt(892.6, 1253.9, 'Combined score', 7.6)
legend_dots(899.5, [1270.3, 1282.9, 1295.6], [19, 27, 36], ['300', '600', '900'], 911.7, 5.6)

# panel E facets
for i, name in enumerate(e_panels):
    t, b = e_boxes[i]
    ax = enrich((1377.3, t, 1452.7, b), t + 7.2, b - 7.3, e_terms[i], e_odds[i], e_pval[i], e_score[i], (1.54, 34.9),
                [10, 20, 30], (4.2, 38.7), (0, 1000), (19.5, 102), font=8.1, spine='#555555')
    if i < len(e_panels) - 1:
        ax.set_xticklabels([])
        ax.tick_params(axis='x', bottom=False)
    ov.add_patch(Rectangle((1452.7, t), 18, b - t, facecolor='#CDD1DC', edgecolor='#555555', lw=1))
    txt(1461.7, (t + b) / 2, name, 7.2, 'center', rotation=-90, color='#333333')
txt(1036, 1048, 'Combined score', 11.3, 'center', rotation=90, color='#333333')
txt(1489, 958, '- log$_{10}$(pvalue)', 7.6)
gradient_bar(1489, 970.8, 1507.5, 1065.6, enrich_cmap, [994.7, 1022.2, 1049.7], ['30', '20', '10'], 1512.7, 7.4)
txt(1489, 1094.3, 'Odds ratio', 7.6)
legend_dots(1498, [1114.5, 1133.8], [61, 102], ['500', '1000'], 1512.7, 7.4)

ov.set_xlim(0, W)
ov.set_ylim(H, 0)
fig.savefig('out.png', dpi=100, facecolor='white')
